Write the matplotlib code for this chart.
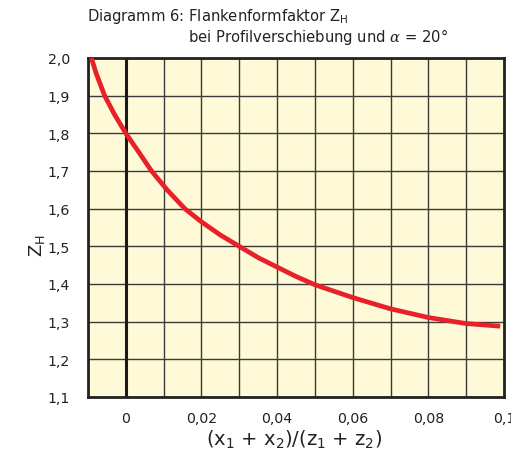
import numpy as np
import matplotlib.pyplot as plt
from matplotlib.ticker import FuncFormatter

plt.rcParams['font.family'] = ['DejaVu Sans']
plt.rcParams['mathtext.fontset'] = 'dejavuserif'

# Flankenformfaktor Z_H über (x1+x2)/(z1+z2)
x_sum = [-0.0091, -0.0078, -0.0056, -0.0031, 0.0, 0.0037, 0.0068, 0.0110,
         0.0156, 0.020, 0.025, 0.030, 0.035, 0.040, 0.045, 0.050, 0.060,
         0.070, 0.080, 0.090, 0.099]
z_h = [2.000, 1.958, 1.900, 1.852, 1.800, 1.746, 1.700, 1.649,
       1.600, 1.565, 1.530, 1.500, 1.470, 1.445, 1.420, 1.398, 1.364,
       1.334, 1.311, 1.295, 1.288]

x_ticks = [0, 0.02, 0.04, 0.06, 0.08, 0.1]
y_ticks = [1.1, 1.2, 1.3, 1.4, 1.5, 1.6, 1.7, 1.8, 1.9, 2.0]

W, H = 511, 456
fig = plt.figure(figsize=(W / 100, H / 100), dpi=100)
ax = fig.add_axes([88 / W, 1 - 398 / H, (504 - 88) / W, (398 - 59) / H])
ax.set_facecolor('#fef9d6')

ax.set_xlim(-0.01, 0.1)
ax.set_ylim(1.1, 2.0)

# Raster
for xv in np.arange(-0.01, 0.1001, 0.01):
    ax.axvline(xv, color='#3a3a3a', lw=1.0, zorder=1)
for yv in y_ticks:
    ax.axhline(yv, color='#3a3a3a', lw=1.0, zorder=1)
ax.axvline(0, color='#1a1a1a', lw=2.2, zorder=2)

ax.plot(x_sum, z_h, color='#e8202a', lw=3.4, solid_capstyle='butt',
        solid_joinstyle='round', zorder=3)

for s in ax.spines.values():
    s.set_linewidth(2.0)
    s.set_color('#222222')

comma = FuncFormatter(lambda v, p: ('0' if abs(v) < 1e-9 else f'{v:g}').replace('.', ','))
ax.set_xticks(x_ticks)
ax.set_yticks(y_ticks)
ax.xaxis.set_major_formatter(comma)
ax.yaxis.set_major_formatter(FuncFormatter(lambda v, p: f'{v:.1f}'.replace('.', ',')))
ax.tick_params(length=0, labelsize=10.2, colors='#222222')
ax.tick_params(axis='x', pad=10)
ax.tick_params(axis='y', pad=13)

fig.text(294 / W, 1 - 440 / H, r'(x$\mathregular{_1}$ + x$\mathregular{_2}$)/(z$\mathregular{_1}$ + z$\mathregular{_2}$)',
         ha='center', va='center', fontsize=14, color='#222222')
fig.text(37 / W, 1 - 246 / H, r'$\mathregular{Z_H}$', ha='center', va='center',
         rotation=90, fontsize=13, color='#222222')

fig.text(87 / W, 1 - 17 / H, r'Diagramm 6: Flankenformfaktor $\mathregular{Z_H}$',
         ha='left', va='center', fontsize=10.6, color='#222222')
fig.text(188 / W, 1 - 37 / H, r'bei Profilverschiebung und $\alpha$ = 20°',
         ha='left', va='center', fontsize=10.6, color='#222222')

fig.savefig('out.png', dpi=100)
